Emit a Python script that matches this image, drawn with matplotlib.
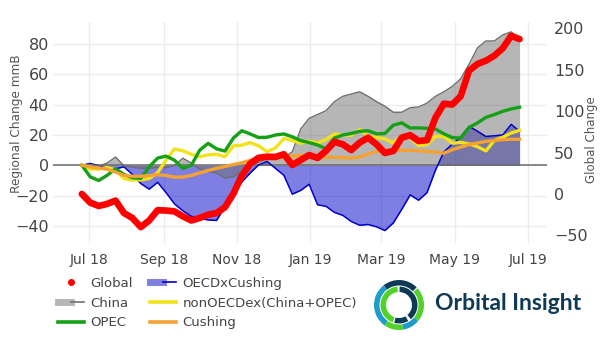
import pandas as pd
import matplotlib
matplotlib.use("Agg")
import matplotlib.pyplot as plt
import matplotlib.dates as mdates
from matplotlib.lines import Line2D
from matplotlib.patches import Wedge
from matplotlib.legend_handler import HandlerTuple

# weekly inventory change series
dates = pd.date_range("2018-06-25", periods=53, freq="7D")

global_chg = [0, -10.5, -14.5, -12, -8, -23, -29, -40, -32, -19.6, -20, -21, -27, -32, -29,
              -25, -23, -16, 0.4, 22, 36.7, 43.7, 45, 44.7, 48, 35, 41, 47, 43.5, 52, 63, 60,
              53, 62, 68, 60, 49.5, 52, 68, 71, 64, 65, 92, 109, 108, 118, 149, 157, 161, 167,
              176, 191, 187]

china = [0, 0.7, -0.5, 1.5, 5.5, -0.3, -1.2, -2, -2, -1.3, -1.5, 0, 4.7, 1.5, -2.5, -4, -5,
         -8.5, -7.5, -4, -0.7, 2, 4.5, 4.5, 5, 9, 24, 31, 33.5, 36, 42, 45.5, 47, 48.5, 45.5,
         42, 39, 35, 35, 38, 38.5, 41, 45.5, 48.5, 52, 57, 66.7, 77.5, 82, 82, 86, 88, 83]

oecd_x_cushing = [0, 1.3, -0.3, -2, -2.3, -1, -6, -12, -15.7, -11.2, -18, -25.4, -30, -33.6,
                  -35, -36, -36.3, -27.4, -18, -11, -5, 0.3, 2.6, -2, -6.6, -19, -16.5, -12.5,
                  -26, -27, -31, -33, -37, -39.5, -39, -40.5, -43, -38, -29, -19.5, -23, -18,
                  -3.3, 8.8, 14, 18.5, 25.7, 22.5, 19, 19.5, 20, 27, 22.5]

opec = [0, -7.6, -10, -6.6, -2.3, -6, -8.2, -8.6, -1, 4.8, 6.1, 3.4, -2, 0, 10, 14.5, 10.9,
        9.4, 18, 22.8, 20.7, 18.3, 18.5, 20, 20.7, 18.8, 16.3, 15, 13.4, 11, 18, 20, 21, 22.4,
        22.8, 20.8, 21, 26.5, 28, 24.6, 24.7, 24.4, 23.9, 20.8, 18.3, 18, 25, 28, 31.6, 33.5,
        35.6, 37.2, 38.3]

non_oecd = [0, -2.4, -2.6, -1.4, -2.9, -8.8, -9.7, -9.6, -8.7, -4.8, 3.4, 10.8, 9.6, 7.3, 5.7,
            6.9, 7.3, 5.7, 12.8, 13.3, 15, 12.8, 9, 11.4, 17.7, 16.4, 14.6, 15.9, 14.7, 17, 20.7,
            19.9, 19.8, 23.6, 19.2, 18.4, 17.4, 14.8, 19.4, 18, 13.1, 13.7, 19.1, 19, 14.6,
            15.1, 14.1, 12.3, 9.5, 16.4, 18.5, 21.3, 23.1]

cushing = [0, -1, -1.7, -2.6, -4.4, -6.7, -7.2, -7.2, -6.7, -6.2, -6.7, -7.8, -7.7, -6.7, -5,
           -3.4, -2, -0.7, 0.5, 1.7, 3.3, 4.4, 5.3, 5.3, 5.6, 6.1, 6.6, 6.1, 5.5, 5.3, 5.3, 5.1,
           4.8, 5.4, 7.5, 9.2, 9.8, 9.9, 9.9, 9.9, 9.6, 9.2, 8.7, 8, 10.3, 12, 13.7, 14.7, 15.8,
           16.4, 16.9, 17.2, 17.2]

left_ticks = [-40, -20, 0, 20, 40, 60, 80]
right_ticks = [-50, 0, 50, 100, 150, 200]

C_GLOBAL = "#ff0000"
C_CHINA = "#6e6e6e"
C_OECD = "#0000c8"
C_NONOECD = "#f2e21c"
C_OPEC = "#16a016"
C_CUSHING = "#f4a232"
TXT = "#444444"

fig = plt.figure(figsize=(6, 3.43), dpi=100)
ax = fig.add_axes([53 / 600, 1 - 243 / 343, 494 / 600, 221 / 343])
ax2 = ax.twinx()
ax2.set_zorder(ax.get_zorder() + 1)
ax2.patch.set_visible(False)

# regional series on the left axis
ax.fill_between(dates, 0, oecd_x_cushing, color=C_OECD, alpha=0.5, lw=0, zorder=1)
ax.fill_between(dates, 0, china, color=C_CHINA, alpha=0.5, lw=0, zorder=2)
ax.axhline(0, color="#6a6a6a", lw=1.1, zorder=2.5)
ax.plot(dates, oecd_x_cushing, color=C_OECD, lw=1.1, zorder=3)
ax.plot(dates, china, color=C_CHINA, lw=1.0, zorder=3)
ax.plot(dates, non_oecd, color=C_NONOECD, lw=2.4, zorder=4)
ax.plot(dates, opec, color=C_OPEC, lw=2.4, zorder=4)
ax.plot(dates, cushing, color=C_CUSHING, lw=2.4, zorder=4)

# global total on the right axis
ax2.plot(dates, global_chg, color=C_GLOBAL, lw=4.8, solid_capstyle="round",
         solid_joinstyle="round")

ax.set_xlim(pd.Timestamp("2018-06-01"), pd.Timestamp("2019-07-16 19:00"))
ax.set_ylim(-51.2, 94.5)
ax2.set_ylim(-59.2, 207.7)
ax.set_yticks(left_ticks)
ax2.set_yticks(right_ticks)

ax.xaxis.set_major_locator(mdates.MonthLocator(bymonth=[1, 3, 5, 7, 9, 11]))
ax.xaxis.set_major_formatter(mdates.DateFormatter("%b %y"))

ax.grid(True, color="#ececec", lw=1.0)
ax.set_axisbelow(True)
for a in (ax, ax2):
    for s in a.spines.values():
        s.set_visible(False)
ax.tick_params(axis="x", length=0, pad=7, labelsize=10, labelcolor=TXT)
ax.tick_params(axis="y", length=0, pad=3, labelsize=11.5, labelcolor=TXT)
ax2.tick_params(axis="y", length=0, pad=5, labelsize=11.5, labelcolor=TXT)

fig.text(17 / 600, 1 - 124 / 343, "Regional Change mmB", rotation=90, ha="center",
         va="center", fontsize=8.7, color="#555555")
fig.text(591 / 600, 1 - 140 / 343, "Global Change", rotation=90, ha="center",
         va="center", fontsize=8.5, color="#555555")

# legend
handles = [
    Line2D([], [], color=C_GLOBAL, marker="o", ms=4, lw=0),
    (Line2D([], [], color=C_CHINA, alpha=0.5, lw=5), Line2D([], [], color=C_CHINA, lw=1.2)),
    Line2D([], [], color=C_OPEC, lw=2.6),
    (Line2D([], [], color=C_OECD, alpha=0.5, lw=5), Line2D([], [], color=C_OECD, lw=1.2)),
    Line2D([], [], color=C_NONOECD, lw=2.6),
    Line2D([], [], color=C_CUSHING, lw=2.6),
]
labels = ["Global", "China", "OPEC", "OECDxCushing", "nonOECDex(China+OPEC)", "Cushing"]
fig.legend(handles, labels, ncol=2, loc="upper left", bbox_to_anchor=(58 / 600, 1 - 277 / 343),
           frameon=False, fontsize=9.5, labelcolor=TXT, handlelength=2.0, handletextpad=0.45,
           columnspacing=1.3, labelspacing=0.5, borderpad=0, borderaxespad=0,
           handler_map={tuple: HandlerTuple(ndivide=None)})

# logo
NAVY = "#0e3a56"
LBLUE = "#1f9cc9"
LGREEN = "#52d12b"
lax = fig.add_axes([374 / 600, 1 - 330 / 343, 50 / 600, 50 / 343])
lax.set_xlim(-1, 1)
lax.set_ylim(-1, 1)
lax.set_aspect("equal")
lax.axis("off")
outer = [(-40, 42, LGREEN), (45, 128, NAVY), (128, 235, LBLUE), (235, 280, LGREEN),
         (280, 320, LBLUE)]
inner = [(95, 250, LGREEN), (255, 300, NAVY), (-50, 88, NAVY)]
for t1, t2, c in outer:
    lax.add_patch(Wedge((0, 0), 1.0, t1, t2, width=0.22, color=c, lw=0))
for t1, t2, c in inner:
    lax.add_patch(Wedge((0, 0), 0.74, t1, t2, width=0.22, color=c, lw=0))
fig.text(435 / 600, 1 - 303 / 343, "Orbital Insight", fontsize=16.5, fontweight="bold",
         family="Lato", color=NAVY, ha="left", va="center")

fig.savefig("out.png", dpi=100)
